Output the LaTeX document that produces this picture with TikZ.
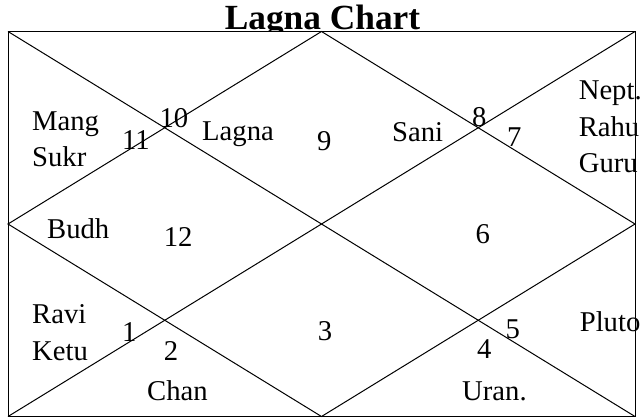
\documentclass[tikz,border=0pt]{standalone}
\usepackage{fontspec}
\setmainfont{Liberation Serif}

\tikzset{every picture/.style={line width=0.75pt}}
\tikzset{house/.style={inner sep=0pt, anchor=base west, align=left, font=\fontsize{21.5}{27.3}\selectfont}}

\begin{document}
\begin{tikzpicture}[x=0.75pt,y=0.75pt,yscale=-1,xscale=1]
\useasboundingbox (0,0) rectangle (641,418);

%Text Node [title]
\node [inner sep=0pt, anchor=base, font=\fontsize{26.5}{30}\selectfont\bfseries] (title) at (322.5,29.5) {Lagna Chart};

%Corners and midpoints of the chart
\coordinate (tl) at (8,31.5);
\coordinate (tr) at (635,31.5);
\coordinate (bl) at (8,416.5);
\coordinate (br) at (635,416.5);
\coordinate (tm) at (321.5,31.5);
\coordinate (bm) at (321.5,416.5);
\coordinate (lm) at (8,224);
\coordinate (rm) at (635,224);

%Shape: Rectangle
\draw [fill=white] (tl) rectangle (br);
%Straight Lines
\draw    (tl) -- (br) ;
%Straight Lines
\draw    (tr) -- (bl) ;
%Shape: Diamond
\draw    (tm) -- (rm) -- (bm) -- (lm) -- cycle ;

%Text Nodes, planets (base = last line)
\node [house] (mang) at (31.7,166.7) {Mang\\Sukr};
\node [house] (lagna) at (201.7,140) {Lagna};
\node [house] (sani) at (391.7,141.7) {Sani};
\node [house] (nept) at (578.3,172.7) {Nept.\\Rahu\\Guru};
\node [house] (budh) at (46.7,238.3) {Budh};
\node [house] (ravi) at (31.7,360) {Ravi\\Ketu};
\node [house] (pluto) at (579.3,331.7) {Pluto};
\node [house] (chan) at (146.7,400.7) {Chan};
\node [house] (uran) at (461.7,400) {Uran.};

%Text Nodes, house numbers
\node [house] (h1) at (121.7,341.7) {1};
\node [house] (h2) at (163.3,360) {2};
\node [house] (h3) at (317.3,340) {3};
\node [house] (h4) at (476.7,358.3) {4};
\node [house] (h5) at (505,338.3) {5};
\node [house] (h6) at (475,243.3) {6};
\node [house] (h7) at (506.7,146.7) {7};
\node [house] (h8) at (471.7,126.7) {8};
\node [house] (h9) at (316.7,150.5) {9};
\node [house] (h10) at (159,127.7) {10};
\node [house] (h11) at (121.7,149) {11};
\node [house] (h12) at (163.3,246.7) {12};

\end{tikzpicture}
\end{document}
